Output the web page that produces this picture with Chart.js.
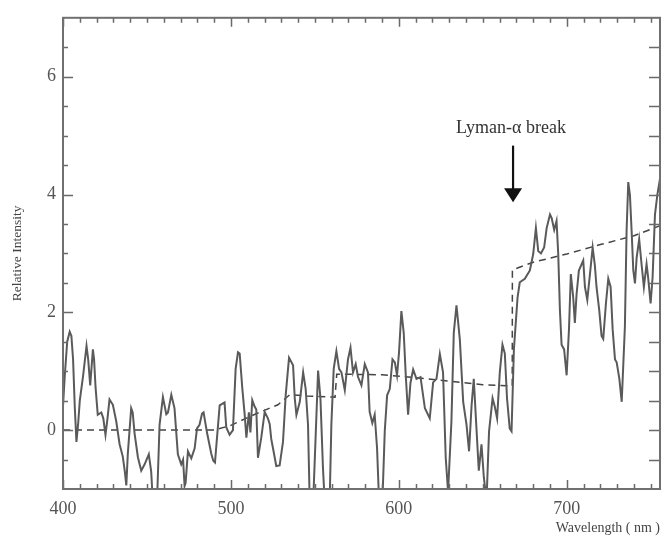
<!DOCTYPE html>
<html>
<head>
<meta charset="utf-8">
<script src="https://cdn.jsdelivr.net/npm/chart.js@4/dist/chart.umd.min.js"></script>
<style>
  html, body { margin: 0; padding: 0; background: #fff; }
  canvas { display: block; }
</style>
</head>
<body>
<canvas id="spectrum" width="667" height="537"></canvas>
<script>
// Observed spectrum (wavelength in nm, relative intensity)
var wavelength = [
  400, 401, 402.5, 404, 405, 406, 407, 408, 409, 410,
  412, 414, 415, 416.2, 417.8, 418.5, 419.4, 420.7, 422.8, 424,
  425.3, 426.5, 427.7, 429.7, 431.7, 433.7, 435.6, 436.8, 437.7, 438.6,
  440.6, 441.5, 442.6, 444.6, 446.6, 448.6, 451.1, 452.5, 453.5, 456,
  457.5, 459.5, 461.5, 462.5, 464.5, 466.4, 468.4, 470.4, 471.5, 472.4,
  473, 474.4, 476.4, 478.4, 479.8, 481.3, 482.8, 483.7, 485.8, 488.3,
  489.5, 490.5, 491.5, 493.3, 496.2, 497.2, 499.2, 501.2, 502.8, 504.2,
  505.2, 506.8, 508.2, 509.2, 510.7, 511.6, 512.7, 514.1, 515.1, 516.1,
  518.1, 520.1, 522, 523.1, 524, 525, 527, 529, 531, 532.6,
  534.6, 537, 538, 539, 541, 543, 544.5, 545.9, 546.9, 549,
  549.9, 551.9, 553.3, 554.8, 555.8, 558.8, 559.8, 561.2, 562.8, 564.4,
  565.8, 567.8, 569.7, 571.2, 572.7, 574.3, 575.7, 577.7, 579.7, 581.6,
  582.6, 584.2, 585.6, 587, 588.2, 590.2, 591.6, 593, 594.6, 596.2,
  597.6, 598.9, 600.1, 601.5, 602.9, 604.1, 605.5, 606.9, 608.5, 610.5,
  612.9, 615.5, 618.4, 620.4, 622.4, 624.4, 626.3, 627.9, 629.3, 631.3,
  632.7, 634.3, 636.3, 638.3, 640.3, 641.8, 643.3, 644.6, 646.2, 647.6,
  649.2, 650.6, 652.2, 653.7, 655.8, 657.1, 658.5, 660.1, 661.7, 663.1,
  664.4, 666, 667.1, 668.5, 670.7, 672, 675, 678, 680, 681.6,
  683, 684.6, 686.5, 688, 690, 691, 692.5, 693.9, 694.9, 695.9,
  696.9, 698.4, 699.9, 701.3, 702.4, 703.8, 704.8, 705.8, 707.2, 709.8,
  710.8, 712.2, 713.8, 715.4, 716.7, 717.7, 719.3, 720.7, 721.7, 723.3,
  724.7, 726.1, 727.3, 728.7, 729.7, 731.3, 732.7, 733.7, 734.6, 735.6,
  736.6, 737.6, 738.6, 739.6, 740.6, 741.6, 743.1, 744.5, 745.9, 747.5,
  748.4, 749.9, 751.1, 752.5, 753.9, 755.5
];
var intensity = [
  0.4, 0.9, 1.5, 1.67, 1.6, 1.2, 0.4, -0.2, 0.1, 0.5,
  0.93, 1.43, 1.2, 0.76, 1.37, 1.2, 0.72, 0.26, 0.3, 0.2,
  -0.08, 0.2, 0.52, 0.43, 0.15, -0.24, -0.45, -0.7, -0.94, -0.4,
  0.37, 0.3, -0.05, -0.46, -0.69, -0.58, -0.41, -0.7, -1.2, -1.2,
  0.09, 0.56, 0.27, 0.3, 0.6, 0.37, -0.41, -0.58, -0.5, -0.95,
  -0.9, -0.36, -0.48, -0.31, 0.03, 0.09, 0.28, 0.3, -0.05, -0.4,
  -0.52, -0.55, -0.2, 0.42, 0.47, 0.05, -0.08, 0.0, 1.04, 1.32,
  1.3, 0.7, 0.26, -0.13, 0.3, -0.04, 0.51, 0.4, 0.35, -0.47,
  -0.12, 0.31, 0.2, 0.1, -0.15, -0.3, -0.61, -0.6, -0.2, 0.59,
  1.23, 1.1, 0.54, 0.26, 0.48, 0.98, 0.7, 0.09, -1.2, -1.2,
  -0.52, 1.01, 0.54, -0.64, -1.2, -1.2, 0.09, 1.04, 1.34, 1.04,
  0.98, 0.68, 1.2, 1.4, 0.98, 1.12, 0.9, 0.76, 1.12, 0.98,
  0.31, 0.12, 0.26, -0.3, -1.2, -1.2, -0.02, 0.59, 0.7, 1.2,
  1.15, 0.93, 1.32, 2.02, 1.65, 0.93, 0.26, 0.8, 1.03, 0.87,
  0.9, 0.37, 0.2, 0.81, 0.87, 1.29, 0.98, -0.47, -1.05, 0.15,
  1.65, 2.12, 1.54, 0.48, 0.09, -0.36, 0.42, 0.87, 0.03, -0.69,
  -0.24, -0.8, -1.2, -0.02, 0.54, 0.4, 0.2, 0.98, 1.45, 1.3,
  0.54, 0.03, -0.02, 1.37, 2.26, 2.51, 2.57, 2.71, 2.99, 3.43,
  3.04, 3.0, 3.1, 3.43, 3.66, 3.6, 3.4, 3.55, 2.99, 2.04,
  1.45, 1.37, 0.93, 1.71, 2.65, 2.26, 1.82, 2.3, 2.71, 2.88,
  2.43, 2.21, 2.65, 3.1, 2.8, 2.43, 2.04, 1.6, 1.55, 2.15,
  2.57, 2.43, 1.71, 1.2, 1.15, 0.87, 0.48, 1.15, 1.76, 3.38,
  4.21, 3.99, 3.38, 2.71, 2.49, 2.93, 3.24, 2.82, 2.43, 2.82,
  2.6, 2.15, 2.6, 3.66, 3.99, 4.27
];

// Model continuum (dashed)
var contWavelength = [400, 490, 500, 512, 522, 528, 535, 545, 562, 563, 590, 610, 630, 650, 667.5, 667.6, 680, 700, 720, 740, 755.5];
var contIntensity  = [0, 0, 0.08, 0.24, 0.36, 0.43, 0.6, 0.58, 0.56, 0.95, 0.94, 0.89, 0.83, 0.77, 0.75, 2.72, 2.85, 2.99, 3.15, 3.3, 3.47];

var xTicks = [400, 500, 600, 700];
var yTicks = [0, 2, 4, 6];

// Annotation: "Lyman-α break" arrow (data coords)
var breakX = 668;
var breakLabelY = 5.13;
var breakArrowTop = 4.83;
var breakArrowTip = 3.87;

function toPoints(xs, ys) {
  return xs.map(function(x, i) { return { x: x, y: ys[i] }; });
}

var serif = "'Liberation Serif', 'DejaVu Serif', serif";

// draws the box, inward ticks on all four sides and the annotation
var frameTicks = {
  id: 'frameTicks',
  afterDraw: function(chart) {
    var ctx = chart.ctx;
    var a = chart.chartArea;
    var xs = chart.scales.x;
    var ys = chart.scales.y;
    ctx.save();
    ctx.strokeStyle = '#6a6a6a';
    ctx.lineWidth = 1.5;
    var v, px, len;
    for (v = 400; v <= 750; v += 10) {
      px = Math.round(xs.getPixelForValue(v)) + 0.5;
      len = xTicks.indexOf(v) >= 0 ? 9 : 5;
      ctx.beginPath();
      ctx.moveTo(px, a.bottom); ctx.lineTo(px, a.bottom - len);
      ctx.moveTo(px, a.top); ctx.lineTo(px, a.top + len);
      ctx.stroke();
    }
    for (v = -0.5; v <= 6.5; v += 0.5) {
      px = Math.round(ys.getPixelForValue(v)) + 0.5;
      len = yTicks.indexOf(v) >= 0 ? 10 : 5;
      ctx.beginPath();
      ctx.moveTo(a.left, px); ctx.lineTo(a.left + len, px);
      ctx.moveTo(a.right, px); ctx.lineTo(a.right - 11, px);
      ctx.stroke();
    }
    ctx.strokeStyle = '#707070';
    ctx.lineWidth = 2;
    ctx.strokeRect(a.left, a.top, a.right - a.left, a.bottom - a.top);

    // annotation
    var ax = xs.getPixelForValue(breakX);
    var top = ys.getPixelForValue(breakArrowTop);
    var tip = ys.getPixelForValue(breakArrowTip);
    ctx.fillStyle = '#333';
    ctx.font = '18px ' + serif;
    ctx.textAlign = 'center';
    ctx.textBaseline = 'middle';
    ctx.fillText('Lyman-\u03b1 break', ax - 2, ys.getPixelForValue(breakLabelY));
    ctx.strokeStyle = '#111';
    ctx.lineWidth = 2.2;
    ctx.beginPath();
    ctx.moveTo(ax, top); ctx.lineTo(ax, tip - 12);
    ctx.stroke();
    ctx.fillStyle = '#111';
    ctx.beginPath();
    ctx.moveTo(ax - 9, tip - 14);
    ctx.lineTo(ax + 9, tip - 14);
    ctx.lineTo(ax, tip);
    ctx.closePath();
    ctx.fill();
    ctx.restore();
  }
};

var spectrumChart = new Chart(document.getElementById('spectrum'), {
  type: 'line',
  data: {
    datasets: [{
      label: 'Spectrum',
      data: toPoints(wavelength, intensity),
      borderColor: '#5a5a5a',
      borderWidth: 2,
      pointRadius: 0,
      tension: 0,
      fill: false
    }, {
      label: 'Continuum',
      data: toPoints(contWavelength, contIntensity),
      borderColor: '#444',
      borderWidth: 1.5,
      borderDash: [7, 5],
      pointRadius: 0,
      tension: 0,
      fill: false
    }]
  },
  options: {
    responsive: false,
    animation: false,
    layout: {
      padding: { top: 10, right: 7, left: 0, bottom: 0 }
    },
    plugins: {
      legend: { display: false },
      tooltip: { enabled: false }
    },
    scales: {
      x: {
        type: 'linear',
        min: 400,
        max: 755.5,
        afterBuildTicks: function(scale) {
          scale.ticks = xTicks.map(function(v) { return { value: v }; });
        },
        afterFit: function(scale) { scale.height = 48; },
        grid: { display: false, drawTicks: false },
        border: { display: false },
        ticks: {
          maxRotation: 0,
          padding: 9,
          color: '#555',
          font: { family: serif, size: 18 }
        },
        title: {
          display: true,
          text: 'Wavelength ( nm )',
          align: 'end',
          color: '#444',
          font: { family: serif, size: 14 },
          padding: 0
        }
      },
      y: {
        type: 'linear',
        min: -1,
        max: 7,
        afterBuildTicks: function(scale) {
          scale.ticks = yTicks.map(function(v) { return { value: v }; });
        },
        afterFit: function(scale) { scale.width = 63; },
        grid: { display: false, drawTicks: false },
        border: { display: false },
        ticks: {
          padding: 7,
          color: '#555',
          font: { family: serif, size: 18 }
        },
        title: {
          display: true,
          text: 'Relative Intensity',
          color: '#444',
          font: { family: serif, size: 13.5 },
          padding: { top: 9, bottom: 0 }
        }
      }
    }
  },
  plugins: [frameTicks]
});
</script>
</body>
</html>
